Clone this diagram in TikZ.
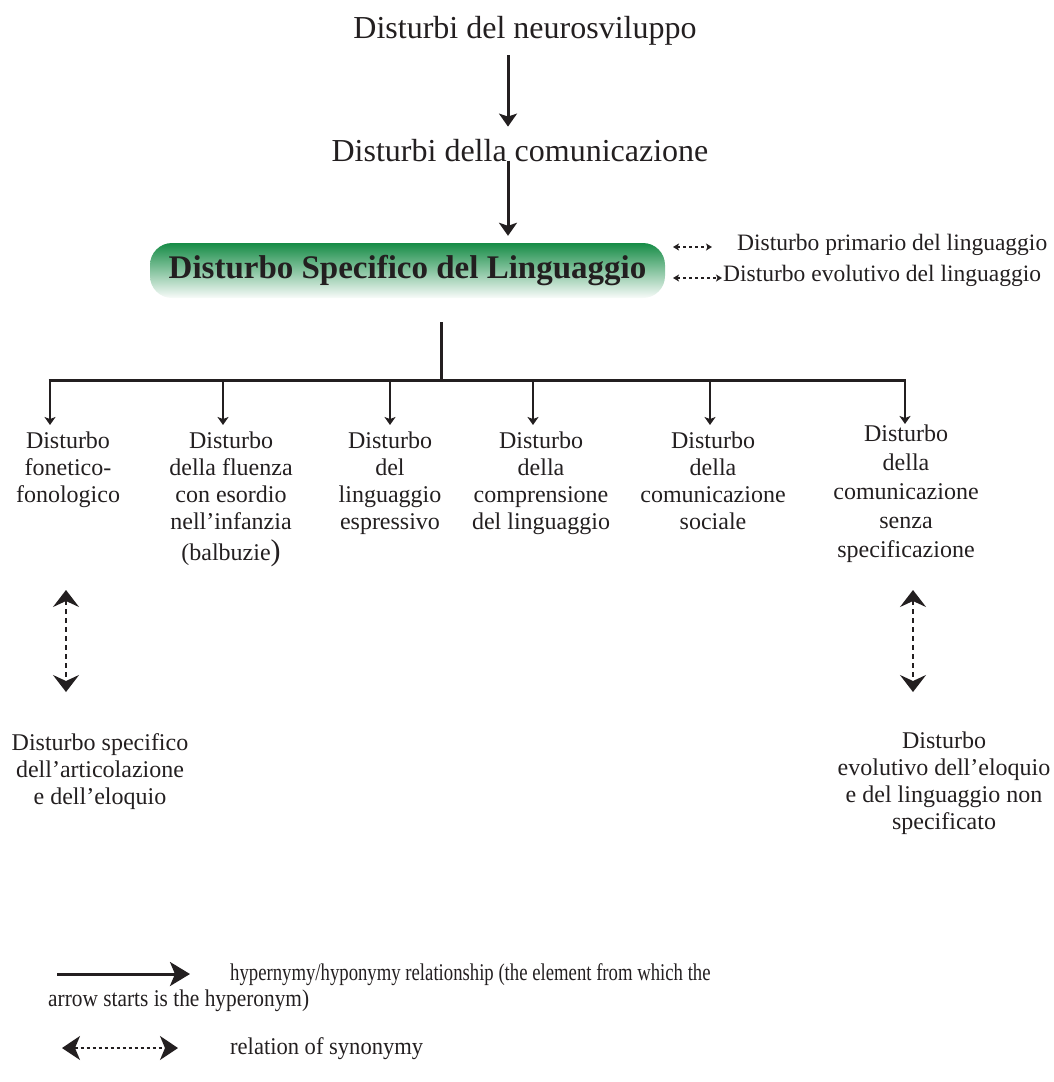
\documentclass[tikz,border=0pt]{standalone}
\usepackage{fontspec}
\setmainfont{Liberation Serif}
\newfontfamily\legendfont{Liberation Serif}
\usetikzlibrary{arrows.meta}
\definecolor{ink}{RGB}{35,31,32}
\definecolor{boxgreen}{RGB}{22,140,70}
\begin{document}
\begin{tikzpicture}[x=1pt,y=-1pt,
  title/.style={font=\fontsize{32}{36}\selectfont, text=ink, inner sep=0pt, anchor=base},
  leaf/.style={font=\fontsize{24}{27}\selectfont, text=ink, align=center, inner sep=0pt, anchor=north},
  side/.style={font=\fontsize{23.5}{27}\selectfont, text=ink, inner sep=0pt, anchor=base west},
  legend/.style={font=\legendfont\fontsize{24}{27}\selectfont, text=ink, inner sep=0pt, anchor=base west},
  dslbox/.style={rounded corners=22pt, minimum width=515pt, minimum height=55pt,
    top color=boxgreen, middle color=boxgreen!50, bottom color=boxgreen!3,
    font=\fontsize{33}{33}\selectfont\bfseries, text=ink, inner sep=0pt},
  hyp/.style={draw=ink, line width=3pt, -{Stealth[length=13pt,width=18pt,inset=3pt]}},
  trunk/.style={draw=ink, line width=3pt},
  branch/.style={draw=ink, line width=2.8pt, -{Stealth[length=8pt,width=11pt,inset=2pt]}},
  syn/.style={draw=ink, line width=2.2pt, dash pattern=on 5pt off 4pt,
    {Stealth[length=17pt,width=26pt,inset=6pt]}-{Stealth[length=17pt,width=26pt,inset=6pt]}},
  synsmall/.style={draw=ink, line width=1.4pt, dash pattern=on 3pt off 3pt,
    {Stealth[length=6pt,width=7pt,inset=1.5pt]}-{Stealth[length=6pt,width=7pt,inset=1.5pt]}},
  hypleg/.style={draw=ink, line width=3pt, -{Stealth[length=20pt,width=24pt,inset=5pt]}},
  synleg/.style={draw=ink, line width=1.6pt, dash pattern=on 3pt off 3pt,
    {Stealth[length=18pt,width=24pt,inset=5pt]}-{Stealth[length=18pt,width=24pt,inset=5pt]}}
]
\useasboundingbox (0,0) rectangle (1054,1082);

% chain at the top
\node[title] (t1) at (525,38) {Disturbi del neurosviluppo};
\node[title] (t2) at (520,161) {Disturbi della comunicazione};
\node[dslbox] (dsl) at (407.5,270.5) {Disturbo Specifico del Linguaggio};
\coordinate (ax) at (508,0);
\draw[hyp, shorten <=10pt, shorten >=12pt] (t1.south -| ax) -- (t2.north -| ax);
\draw[hyp, shorten <=-1pt, shorten >=7pt] (t2.south -| ax) -- (dsl.north -| ax);

% synonyms of the main term
\node[side] (p1) at (737,250) {Disturbo primario del linguaggio};
\node[side] (p2) at (723,281) {Disturbo evolutivo del linguaggio};
\coordinate (q1) at (673,247);
\coordinate (q2) at (673,278);
\draw[synsmall, shorten >=25pt] (q1) -- (p1.west |- q1);
\draw[synsmall, shorten >=1pt] (q2) -- (p2.west |- q2);

% subtypes
\node[leaf] (c1) at (68,432) {Disturbo\\fonetico-\\fonologico};
\node[leaf] (c2) at (231,432) {Disturbo\\della fluenza\\con esordio\\nell’infanzia\\[4pt](balbuzie{\fontsize{30}{27}\selectfont)}};
\node[leaf] (c3) at (390,432) {Disturbo\\del\\linguaggio\\espressivo};
\node[leaf] (c4) at (541,432) {Disturbo\\della\\comprensione\\del linguaggio};
\node[leaf] (c5) at (713,432) {Disturbo\\della\\comunicazione\\sociale};
\node[leaf, font=\fontsize{24}{29}\selectfont] (c6) at (906,425) {Disturbo\\della\\comunicazione\\senza\\specificazione};

\coordinate (stem) at (441,322);
\coordinate (fork) at (441,380);
\coordinate (k1) at (50,380);
\coordinate (k2) at (223,380);
\coordinate (k3) at (390,380);
\coordinate (k4) at (533,380);
\coordinate (k5) at (710,380);
\coordinate (k6) at (905,380);
\draw[trunk] (stem) -- (fork);
\draw[trunk] ([xshift=-1.4pt]k1) -- ([xshift=1.4pt]k6);
\draw[branch, shorten >=7pt] (k1) -- (k1 |- c1.north);
\draw[branch, shorten >=7pt] (k2) -- (k2 |- c2.north);
\draw[branch, shorten >=7pt] (k3) -- (k3 |- c3.north);
\draw[branch, shorten >=7pt] (k4) -- (k4 |- c4.north);
\draw[branch, shorten >=7pt] (k5) -- (k5 |- c5.north);
\draw[branch, shorten >=1pt] (k6) -- (k6 |- c6.north);

% synonyms of two subtypes
\node[leaf] (e1) at (100,733) {Disturbo specifico\\dell’articolazione\\e dell’eloquio};
\node[leaf] (e6) at (944,732) {Disturbo\\evolutivo dell’eloquio\\e del linguaggio non\\specificato};
\coordinate (u1) at (66,590);
\coordinate (d1) at (66,692);
\coordinate (u6) at (913,590);
\coordinate (d6) at (913,692);
\draw[syn] (u1) -- (d1);
\draw[syn] (u6) -- (d6);

% legend
\coordinate (la) at (57,974);
\coordinate (lb) at (190,974);
\draw[hypleg] (la) -- (lb);
\node[legend] (l1) at (230,980) {\addfontfeatures{FakeStretch=0.78}hypernymy/hyponymy relationship (the element from which the};
\node[legend] (l2) at (48,1006) {\addfontfeatures{FakeStretch=0.89}arrow starts is the hyperonym)};
\coordinate (sa) at (62,1048);
\coordinate (sb) at (178,1048);
\draw[synleg] (sa) -- (sb);
\node[legend] (l3) at (230,1054) {\addfontfeatures{FakeStretch=0.94}relation of synonymy};
\end{tikzpicture}
\end{document}
